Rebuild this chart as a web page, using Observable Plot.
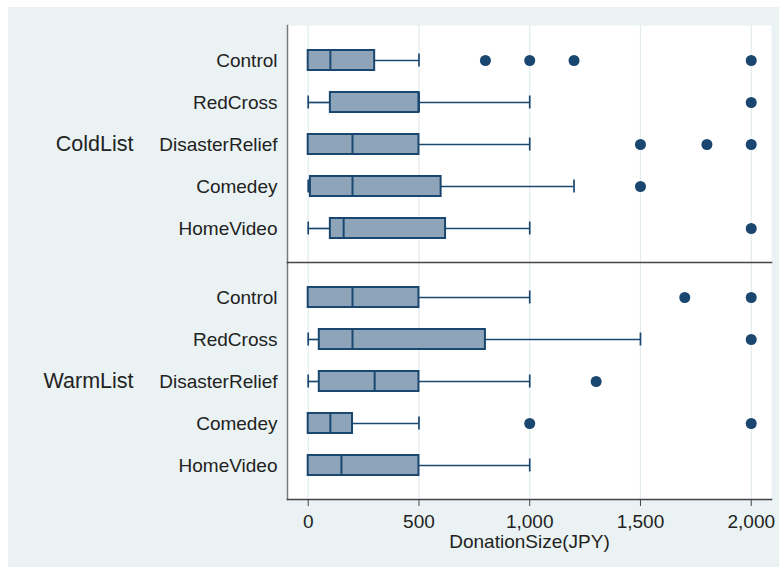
<!DOCTYPE html>
<html><head><meta charset="utf-8">
<script src="https://cdn.jsdelivr.net/npm/d3@7"></script>
<script src="https://cdn.jsdelivr.net/npm/@observablehq/plot@0.6"></script>
<style>
body{margin:0;background:#fff;}
#wrap{padding:7px 0 0 8px;}
#wrap svg{display:block;background:#eaf2f3;}
</style></head><body><div id="wrap"></div>
<script>
const lists = ["ColdList", "WarmList"];
const treatments = ["Control", "RedCross", "DisasterRelief", "Comedey", "HomeVideo"];
// one row per list, one column per treatment
const lowWhisker = [[0, 0, 0, 0, 0], [0, 0, 0, 0, 0]];
const q1 = [[0, 100, 0, 10, 100], [0, 50, 50, 0, 0]];
const median = [[100, 500, 200, 200, 160], [200, 200, 300, 100, 150]];
const q3 = [[300, 500, 500, 600, 620], [500, 800, 500, 200, 500]];
const highWhisker = [[500, 1000, 1000, 1200, 1000], [1000, 1500, 1000, 500, 1000]];
const outliers = [
  [[800, 1000, 1200, 2000], [2000], [1500, 1800, 2000], [1500], [2000]],
  [[1700, 2000], [2000], [1300], [1000, 2000], []]
];
const xTicks = [0, 500, 1000, 1500, 2000];

const stats = lists.flatMap((l, i) => treatments.map((t, j) => ({
  list: l, treatment: t,
  lo: lowWhisker[i][j], q1: q1[i][j], med: median[i][j], q3: q3[i][j], hi: highWhisker[i][j]
})));
const outs = lists.flatMap((l, i) => treatments.flatMap((t, j) =>
  outliers[i][j].map(v => ({list: l, treatment: t, value: v}))));

const navy = "#1a476f";
const font = "Liberation Sans, Arial, sans-serif";

const chart = Plot.plot({
  width: 771,
  height: 560,
  marginLeft: 279,
  marginRight: 8,
  marginTop: 18,
  marginBottom: 68,
  style: {fontFamily: font, background: "#eaf2f3", color: "#222"},
  x: {domain: [-93.5, 2091.5]},
  y: {domain: treatments, paddingInner: 0.53, paddingOuter: 0.553, axis: null},
  fy: {domain: lists, padding: 0, axis: null},
  marks: [
    Plot.frame({fill: "white", stroke: "none"}),
    Plot.gridX(xTicks, {stroke: "#e1ebee", strokeOpacity: 1, strokeWidth: 1.2}),
    Plot.ruleY(stats, {y: "treatment", fy: "list", x1: "lo", x2: "q1", stroke: navy, strokeWidth: 1.7}),
    Plot.ruleY(stats, {y: "treatment", fy: "list", x1: "q3", x2: "hi", stroke: navy, strokeWidth: 1.7}),
    Plot.tickX(stats, {y: "treatment", fy: "list", x: "lo", stroke: navy, strokeWidth: 1.7, insetTop: 3.5, insetBottom: 3.5}),
    Plot.tickX(stats, {y: "treatment", fy: "list", x: "hi", stroke: navy, strokeWidth: 1.7, insetTop: 3.5, insetBottom: 3.5}),
    Plot.barX(stats, {y: "treatment", fy: "list", x1: "q1", x2: "q3", fill: "#8ea5b9", stroke: navy, strokeWidth: 2}),
    Plot.tickX(stats, {y: "treatment", fy: "list", x: "med", stroke: navy, strokeWidth: 2}),
    Plot.dot(outs, {y: "treatment", fy: "list", x: "value", r: 5.5, fill: navy, stroke: "none"}),
    Plot.frame({anchor: "left", stroke: "#7a7a7a", strokeWidth: 1.5}),
    Plot.frame({anchor: "bottom", stroke: "#444", strokeWidth: 1.5}),
    Plot.axisY({tickSize: 0, tickPadding: 10, fontSize: 19, label: null, fill: "#222"}),
    Plot.axisFy({anchor: "left", tickSize: 0, tickPadding: 154, fontSize: 21.5, label: null, fill: "#222"}),
    Plot.axisX(xTicks, {tickSize: 7, tickPadding: 8, tickFormat: d3.format(","), fontSize: 19, stroke: "#444", fill: "#222",
      label: "DonationSize(JPY)", labelAnchor: "center", labelArrow: "none", labelOffset: 48})
  ]
});
document.getElementById("wrap").appendChild(chart);
</script></body></html>
